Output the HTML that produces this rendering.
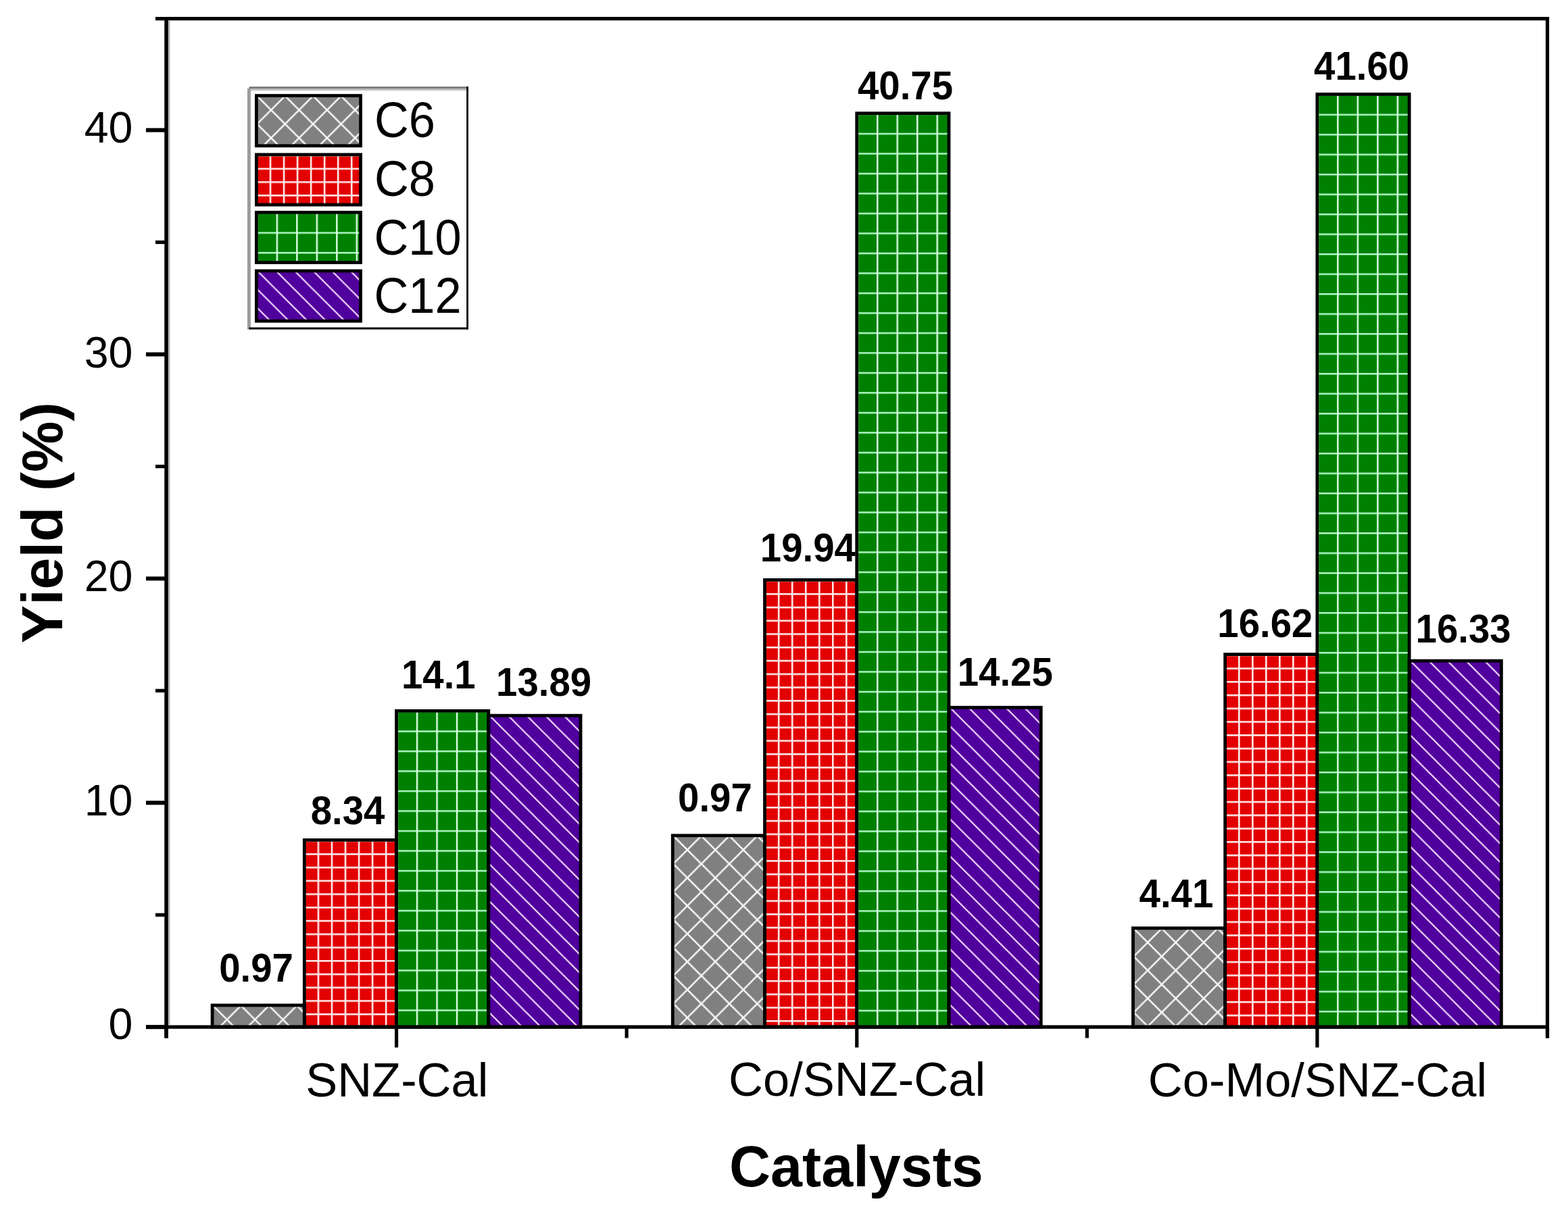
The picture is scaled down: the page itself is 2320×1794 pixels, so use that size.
<!DOCTYPE html>
<html><head><meta charset="utf-8"><title>Yield chart</title>
<style>
html,body{margin:0;padding:0;background:#fff;}
body{width:2320px;height:1794px;overflow:hidden;}
svg{display:block;}
text{font-family:"Liberation Sans",Arial,sans-serif;fill:#000;font-kerning:none;}
text.b{font-weight:bold;}
</style></head><body>
<svg width="2320" height="1794" viewBox="0 0 2320 1794">
<defs>
<pattern id="b00" patternUnits="userSpaceOnUse" width="41.4" height="41.4" x="315.12" y="1488.51">
<rect width="41.4" height="41.4" fill="#808080"/>
<g stroke="#f8f8f8" stroke-width="2.5">
<line x1="-5" y1="-5" x2="46.4" y2="46.4"/><line x1="46.4" y1="-5" x2="-5" y2="46.4"/>
<line x1="36.4" y1="-5" x2="46.4" y2="5"/><line x1="-5" y1="36.4" x2="5" y2="46.4"/>
<line x1="-5" y1="5" x2="5" y2="-5"/><line x1="36.4" y1="46.4" x2="46.4" y2="36.4"/>
</g></pattern>
<pattern id="b01" patternUnits="userSpaceOnUse" width="20.03" height="19.75" x="449.65" y="1243.30">
<rect width="20.03" height="19.75" fill="#e20000"/>
<rect x="0" y="0" width="2.6" height="19.75" fill="#ffeaea"/>
<rect x="0" y="0" width="20.03" height="2.6" fill="#ffeaea"/>
</pattern>
<pattern id="b02" patternUnits="userSpaceOnUse" width="29.5" height="29.5" x="586.33" y="1051.77">
<rect width="29.5" height="29.5" fill="#008000"/>
<rect x="0" y="0" width="29.5" height="2.5" fill="#b0f8c8"/>
<rect x="0" y="0" width="2.5" height="29.5" fill="#d8ffe4"/>
</pattern>
<pattern id="b03" patternUnits="userSpaceOnUse" width="27.5" height="27.5" x="724.32" y="1059.19">
<rect width="27.5" height="27.5" fill="#50009c"/>
<g stroke="#f6dcff" stroke-width="2.2">
<line x1="-5" y1="-5" x2="32.5" y2="32.5"/>
<line x1="22.5" y1="-5" x2="32.5" y2="5"/><line x1="-5" y1="22.5" x2="5" y2="32.5"/>
</g></pattern>
<pattern id="b10" patternUnits="userSpaceOnUse" width="41.4" height="41.4" x="996.28" y="1237.26">
<rect width="41.4" height="41.4" fill="#808080"/>
<g stroke="#f8f8f8" stroke-width="2.5">
<line x1="-5" y1="-5" x2="46.4" y2="46.4"/><line x1="46.4" y1="-5" x2="-5" y2="46.4"/>
<line x1="36.4" y1="-5" x2="46.4" y2="5"/><line x1="-5" y1="36.4" x2="5" y2="46.4"/>
<line x1="-5" y1="5" x2="5" y2="-5"/><line x1="36.4" y1="46.4" x2="46.4" y2="36.4"/>
</g></pattern>
<pattern id="b11" patternUnits="userSpaceOnUse" width="20.03" height="19.75" x="1130.82" y="858.29">
<rect width="20.03" height="19.75" fill="#e20000"/>
<rect x="0" y="0" width="2.6" height="19.75" fill="#ffeaea"/>
<rect x="0" y="0" width="20.03" height="2.6" fill="#ffeaea"/>
</pattern>
<pattern id="b12" patternUnits="userSpaceOnUse" width="29.5" height="29.5" x="1267.50" y="167.26">
<rect width="29.5" height="29.5" fill="#008000"/>
<rect x="0" y="0" width="29.5" height="2.5" fill="#b0f8c8"/>
<rect x="0" y="0" width="2.5" height="29.5" fill="#d8ffe4"/>
</pattern>
<pattern id="b13" patternUnits="userSpaceOnUse" width="27.5" height="27.5" x="1405.48" y="1047.24">
<rect width="27.5" height="27.5" fill="#50009c"/>
<g stroke="#f6dcff" stroke-width="2.2">
<line x1="-5" y1="-5" x2="32.5" y2="32.5"/>
<line x1="22.5" y1="-5" x2="32.5" y2="5"/><line x1="-5" y1="22.5" x2="5" y2="32.5"/>
</g></pattern>
<pattern id="b20" patternUnits="userSpaceOnUse" width="41.4" height="41.4" x="1677.45" y="1374.33">
<rect width="41.4" height="41.4" fill="#808080"/>
<g stroke="#f8f8f8" stroke-width="2.5">
<line x1="-5" y1="-5" x2="46.4" y2="46.4"/><line x1="46.4" y1="-5" x2="-5" y2="46.4"/>
<line x1="36.4" y1="-5" x2="46.4" y2="5"/><line x1="-5" y1="36.4" x2="5" y2="46.4"/>
<line x1="-5" y1="5" x2="5" y2="-5"/><line x1="36.4" y1="46.4" x2="46.4" y2="36.4"/>
</g></pattern>
<pattern id="b21" patternUnits="userSpaceOnUse" width="20.03" height="19.75" x="1811.98" y="968.48">
<rect width="20.03" height="19.75" fill="#e20000"/>
<rect x="0" y="0" width="2.6" height="19.75" fill="#ffeaea"/>
<rect x="0" y="0" width="20.03" height="2.6" fill="#ffeaea"/>
</pattern>
<pattern id="b22" patternUnits="userSpaceOnUse" width="29.5" height="29.5" x="1948.67" y="139.05">
<rect width="29.5" height="29.5" fill="#008000"/>
<rect x="0" y="0" width="29.5" height="2.5" fill="#b0f8c8"/>
<rect x="0" y="0" width="2.5" height="29.5" fill="#d8ffe4"/>
</pattern>
<pattern id="b23" patternUnits="userSpaceOnUse" width="27.5" height="27.5" x="2086.65" y="978.21">
<rect width="27.5" height="27.5" fill="#50009c"/>
<g stroke="#f6dcff" stroke-width="2.2">
<line x1="-5" y1="-5" x2="32.5" y2="32.5"/>
<line x1="22.5" y1="-5" x2="32.5" y2="5"/><line x1="-5" y1="22.5" x2="5" y2="32.5"/>
</g></pattern>
<pattern id="L0" patternUnits="userSpaceOnUse" width="41.4" height="41.4" x="380.40" y="142.10">
<rect width="41.4" height="41.4" fill="#808080"/>
<g stroke="#f8f8f8" stroke-width="2.5">
<line x1="-5" y1="-5" x2="46.4" y2="46.4"/><line x1="46.4" y1="-5" x2="-5" y2="46.4"/>
<line x1="36.4" y1="-5" x2="46.4" y2="5"/><line x1="-5" y1="36.4" x2="5" y2="46.4"/>
<line x1="-5" y1="5" x2="5" y2="-5"/><line x1="36.4" y1="46.4" x2="46.4" y2="36.4"/>
</g></pattern>
<pattern id="L1" patternUnits="userSpaceOnUse" width="20.03" height="19.75" x="378.70" y="228.80">
<rect width="20.03" height="19.75" fill="#e20000"/>
<rect x="0" y="0" width="2.6" height="19.75" fill="#ffeaea"/>
<rect x="0" y="0" width="20.03" height="2.6" fill="#ffeaea"/>
</pattern>
<pattern id="L2" patternUnits="userSpaceOnUse" width="29.5" height="29.5" x="379.15" y="313.95">
<rect width="29.5" height="29.5" fill="#008000"/>
<rect x="0" y="0" width="29.5" height="2.5" fill="#b0f8c8"/>
<rect x="0" y="0" width="2.5" height="29.5" fill="#d8ffe4"/>
</pattern>
<pattern id="L3" patternUnits="userSpaceOnUse" width="27.5" height="27.5" x="380.90" y="401.00">
<rect width="27.5" height="27.5" fill="#50009c"/>
<g stroke="#f6dcff" stroke-width="2.2">
<line x1="-5" y1="-5" x2="32.5" y2="32.5"/>
<line x1="22.5" y1="-5" x2="32.5" y2="5"/><line x1="-5" y1="22.5" x2="5" y2="32.5"/>
</g></pattern>
</defs>
<rect width="2320" height="1794" fill="#fff"/>
<text id="d11" class="b" font-size="56.4" transform="translate(324.14,1453.27) scale(1,1.05)">0.97</text>
<text id="d12" class="b" font-size="56.4" transform="translate(459.67,1220.12) scale(1,1.05)">8.34</text>
<text id="d13" class="b" font-size="56.4" transform="translate(593.92,1018.75) scale(1,1.05)">14.1</text>
<text id="d14" class="b" font-size="56.4" transform="translate(734.10,1029.72) scale(1,1.05)">13.89</text>
<text id="d21" class="b" font-size="56.4" transform="translate(1003.09,1201.42) scale(1,1.05)">0.97</text>
<text id="d22" class="b" font-size="56.4" transform="translate(1124.85,831.22) scale(1,1.05)">19.94</text>
<text id="d23" class="b" font-size="56.4" transform="translate(1268.99,147.07) scale(1,1.05)">40.75</text>
<text id="d24" class="b" font-size="56.4" transform="translate(1416.74,1014.57) scale(1,1.05)">14.25</text>
<text id="d31" class="b" font-size="56.4" transform="translate(1685.52,1343.05) scale(1,1.05)">4.41</text>
<text id="d32" class="b" font-size="56.4" transform="translate(1801.28,942.77) scale(1,1.05)">16.62</text>
<text id="d33" class="b" font-size="56.4" transform="translate(1944.06,117.57) scale(1,1.05)">41.60</text>
<text id="d34" class="b" font-size="56.4" transform="translate(2094.57,950.72) scale(1,1.05)">16.33</text>
<rect x="314.12" y="1488.01" width="136.23" height="32.19" fill="url(#b00)"/>
<rect x="450.35" y="1243.40" width="136.23" height="276.80" fill="url(#b01)"/>
<rect x="586.58" y="1052.22" width="136.23" height="467.98" fill="url(#b02)"/>
<rect x="722.82" y="1059.19" width="136.23" height="461.01" fill="url(#b03)"/>
<rect x="995.28" y="1236.76" width="136.23" height="283.44" fill="url(#b10)"/>
<rect x="1131.52" y="858.39" width="136.23" height="661.81" fill="url(#b11)"/>
<rect x="1267.75" y="167.71" width="136.23" height="1352.49" fill="url(#b12)"/>
<rect x="1403.98" y="1047.24" width="136.23" height="472.96" fill="url(#b13)"/>
<rect x="1676.45" y="1373.83" width="136.23" height="146.37" fill="url(#b20)"/>
<rect x="1812.68" y="968.58" width="136.23" height="551.62" fill="url(#b21)"/>
<rect x="1948.92" y="139.50" width="136.23" height="1380.70" fill="url(#b22)"/>
<rect x="2085.15" y="978.21" width="136.23" height="541.99" fill="url(#b23)"/>
<rect x="314.12" y="1488.01" width="136.23" height="32.19" fill="none" stroke="#000" stroke-width="4.8"/>
<rect x="450.35" y="1243.40" width="136.23" height="276.80" fill="none" stroke="#000" stroke-width="4.8"/>
<rect x="586.58" y="1052.22" width="136.23" height="467.98" fill="none" stroke="#000" stroke-width="4.8"/>
<rect x="722.82" y="1059.19" width="136.23" height="461.01" fill="none" stroke="#000" stroke-width="4.8"/>
<rect x="995.28" y="1236.76" width="136.23" height="283.44" fill="none" stroke="#000" stroke-width="4.8"/>
<rect x="1131.52" y="858.39" width="136.23" height="661.81" fill="none" stroke="#000" stroke-width="4.8"/>
<rect x="1267.75" y="167.71" width="136.23" height="1352.49" fill="none" stroke="#000" stroke-width="4.8"/>
<rect x="1403.98" y="1047.24" width="136.23" height="472.96" fill="none" stroke="#000" stroke-width="4.8"/>
<rect x="1676.45" y="1373.83" width="136.23" height="146.37" fill="none" stroke="#000" stroke-width="4.8"/>
<rect x="1812.68" y="968.58" width="136.23" height="551.62" fill="none" stroke="#000" stroke-width="4.8"/>
<rect x="1948.92" y="139.50" width="136.23" height="1380.70" fill="none" stroke="#000" stroke-width="4.8"/>
<rect x="2085.15" y="978.21" width="136.23" height="541.99" fill="none" stroke="#000" stroke-width="4.8"/>
<line x1="230" y1="27.6" x2="2292" y2="27.6" stroke="#000" stroke-width="5.2"/>
<line x1="216" y1="1520.2" x2="2292" y2="1520.2" stroke="#000" stroke-width="5.2"/>
<line x1="246.1" y1="25" x2="246.1" y2="1536.5" stroke="#000" stroke-width="5.6"/>
<line x1="2289.5" y1="25" x2="2289.5" y2="1536.5" stroke="#000" stroke-width="5.2"/>
<rect x="248.9" y="30.2" width="2.6" height="1487.4" fill="#b8b8b8"/>
<line x1="216" y1="1520.20" x2="246.0" y2="1520.20" stroke="#000" stroke-width="6.0"/>
<line x1="230" y1="1354.25" x2="246.0" y2="1354.25" stroke="#000" stroke-width="5.2"/>
<line x1="216" y1="1188.30" x2="246.0" y2="1188.30" stroke="#000" stroke-width="6.0"/>
<line x1="230" y1="1022.35" x2="246.0" y2="1022.35" stroke="#000" stroke-width="5.2"/>
<line x1="216" y1="856.40" x2="246.0" y2="856.40" stroke="#000" stroke-width="6.0"/>
<line x1="230" y1="690.45" x2="246.0" y2="690.45" stroke="#000" stroke-width="5.2"/>
<line x1="216" y1="524.50" x2="246.0" y2="524.50" stroke="#000" stroke-width="6.0"/>
<line x1="230" y1="358.55" x2="246.0" y2="358.55" stroke="#000" stroke-width="5.2"/>
<line x1="216" y1="192.60" x2="246.0" y2="192.60" stroke="#000" stroke-width="6.0"/>
<line x1="246.00" y1="1520.2" x2="246.00" y2="1536.5" stroke="#000" stroke-width="5.2"/>
<line x1="586.58" y1="1520.2" x2="586.58" y2="1550.5" stroke="#000" stroke-width="5.2"/>
<line x1="927.17" y1="1520.2" x2="927.17" y2="1536.5" stroke="#000" stroke-width="5.2"/>
<line x1="1267.75" y1="1520.2" x2="1267.75" y2="1550.5" stroke="#000" stroke-width="5.2"/>
<line x1="1608.33" y1="1520.2" x2="1608.33" y2="1536.5" stroke="#000" stroke-width="5.2"/>
<line x1="1948.92" y1="1520.2" x2="1948.92" y2="1550.5" stroke="#000" stroke-width="5.2"/>
<line x1="2289.50" y1="1520.2" x2="2289.50" y2="1536.5" stroke="#000" stroke-width="5.2"/>
<rect x="368.5" y="131" width="323" height="355" fill="#fff"/>
<rect x="368.5" y="128.2" width="324.5" height="2.8" fill="#7a7a7a"/>
<rect x="370.9" y="131" width="322" height="3" fill="#bdbdbd"/>
<rect x="366" y="131" width="4.9" height="356.6" fill="#9c9c9c"/>
<rect x="690.2" y="128.2" width="2.8" height="359.4" fill="#000"/>
<rect x="368.5" y="484.6" width="324.5" height="3" fill="#000"/>
<rect x="379.4" y="141.60" width="154.2" height="74.2" fill="url(#L0)" stroke="#000" stroke-width="4.8"/>
<rect x="379.4" y="228.90" width="154.2" height="74.2" fill="url(#L1)" stroke="#000" stroke-width="4.8"/>
<rect x="379.4" y="314.40" width="154.2" height="74.2" fill="url(#L2)" stroke="#000" stroke-width="4.8"/>
<rect x="379.4" y="401.00" width="154.2" height="74.2" fill="url(#L3)" stroke="#000" stroke-width="4.8"/>
<text id="t40" class="r" x="124.68" y="211.40" font-size="64.5">40</text>
<text id="t30" class="r" x="124.68" y="544.30" font-size="64.5">30</text>
<text id="t20" class="r" x="124.68" y="875.00" font-size="64.5">20</text>
<text id="t10" class="r" x="124.68" y="1206.65" font-size="64.5">10</text>
<text id="t0" class="r" x="160.55" y="1538.30" font-size="64.5">0</text>
<text id="x1" class="r" x="452.13" y="1623.20" font-size="70.5">SNZ-Cal</text>
<text id="x2" class="r" x="1078.08" y="1622.30" font-size="70.5">Co/SNZ-Cal</text>
<text id="x3" class="r" x="1698.83" y="1622.55" font-size="70.5">Co-Mo/SNZ-Cal</text>
<text id="xt" class="b" x="1079.07" y="1756.00" font-size="84.5">Catalysts</text>
<text id="yt" class="b" font-size="84.5" transform="translate(92.15,952.23) rotate(-90)">Yield (%)</text>
<text id="l1" class="r" font-size="70.5" transform="translate(553.92,202.77) scale(1,1.045)">C6</text>
<text id="l2" class="r" font-size="70.5" transform="translate(553.92,289.62) scale(1,1.045)">C8</text>
<text id="l3" class="r" font-size="70.5" transform="translate(553.42,377.07) scale(1,1.045)">C10</text>
<text id="l4" class="r" font-size="70.5" transform="translate(553.42,463.02) scale(1,1.045)">C12</text>
</svg>
</body></html>
